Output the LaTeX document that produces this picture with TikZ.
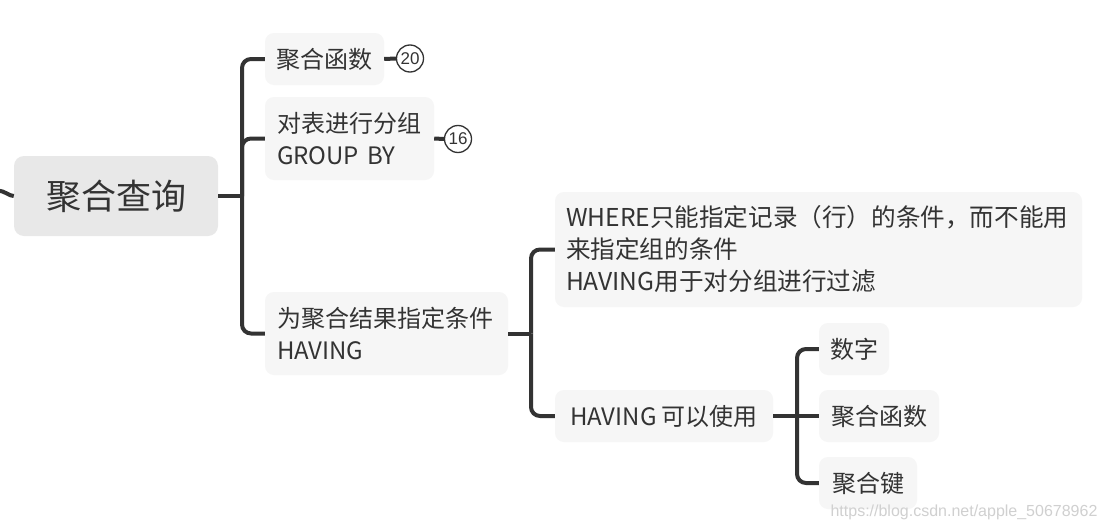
\documentclass[tikz,border=0pt]{standalone}
\usepackage{fontspec}
\setmainfont{Noto Sans CJK SC}
\newfontfamily\wmfont{Liberation Sans}
\definecolor{ink}{HTML}{333333}
\definecolor{rootfill}{HTML}{E8E8E8}
\definecolor{boxfill}{HTML}{F6F6F6}
\definecolor{wm}{HTML}{D0D0D0}
\tikzset{
  rootbox/.style={fill=rootfill, rounded corners=10pt, inner sep=0pt, text=ink,
    font=\fontsize{35}{40}\selectfont, minimum width=204pt, minimum height=80pt},
  leafbox/.style={fill=boxfill, rounded corners=9pt, inner sep=0pt, text=ink, align=left,
    font=\fontsize{24}{32}\selectfont},
  countmark/.style={circle, draw=ink, line width=1.3pt, fill=white, inner sep=0pt,
    minimum size=27pt, text=ink, font=\wmfont\fontsize{17}{17}\selectfont},
  link/.style={draw=ink, line width=4pt, rounded corners=9pt},
}
\begin{document}
\begin{tikzpicture}[x=1pt,y=-1pt]
\useasboundingbox (0,0) rectangle (1106,530);
\fill[white] (0,0) rectangle (1106,530);

\node[rootbox] (root) at (116,196) {聚合查询};
\node[leafbox, minimum width=119pt, minimum height=52pt] (c1) at (324.5,59) {聚合函数};
\node[countmark] (n20) at (410,58.5) {20};
\node[leafbox, minimum width=169pt, minimum height=83pt, text width=145pt] (c2) at (349.5,138.5) {对表进行分组\\GROUP BY};
\node[countmark] (n16) at (458,139) {16};
\node[leafbox, minimum width=243pt, minimum height=83pt, text width=219pt] (c3) at (386.5,333.5) {为聚合结果指定条件\\HAVING};
\node[leafbox, minimum width=527pt, minimum height=115pt, text width=505pt, font=\fontsize{24.6}{32}\selectfont] (d1) at (818.5,249.5) {WHERE只能指定记录（行）的条件，而不能用\\来指定组的条件\\HAVING用于对分组进行过滤};
\node[leafbox, minimum width=218pt, minimum height=52pt] (d2) at (664,416) {HAVING 可以使用};
\node[leafbox, minimum width=70pt, minimum height=52pt] (e1) at (854,349) {数字};
\node[leafbox, minimum width=120pt, minimum height=52pt] (e2) at (879,416) {聚合函数};
\node[leafbox, minimum width=98pt, minimum height=52pt] (e3) at (868,483) {聚合键};

\coordinate (stub) at (-2,190.5);
\coordinate (j1) at (242,196);
\coordinate (j2) at (531,333.5);
\coordinate (j3) at (797,416);

\draw[link] (stub) .. controls (5,191) and (9,196) .. (root.west);
\draw[link] (root.east) -- (j1);
\draw[link] (j1) |- (c1.west);
\draw[link] (j1) |- (c2.west);
\draw[link] (j1) |- (c3.west);
\draw[link] (c1.east) -- (n20.west);
\draw[link] (c2.east) -- (n16.west);
\draw[link] (c3.east) -- (j2);
\draw[link] (j2) |- (d1.west);
\draw[link] (j2) |- (d2.west);
\draw[link] (d2.east) -- (j3);
\draw[link] (j3) |- (e1.west);
\draw[link] (j3) -- (e2.west);
\draw[link] (j3) |- (e3.west);

\node[text=wm, font=\wmfont\fontsize{16}{16}\selectfont, inner sep=0pt] (mark) at (964,512) {https://blog.csdn.net/apple\_50678962};
\end{tikzpicture}
\end{document}
